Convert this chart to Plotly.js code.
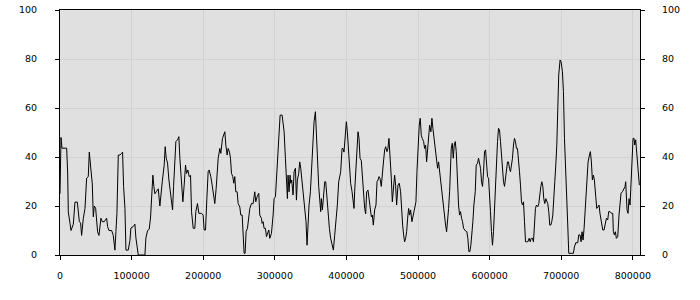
<!DOCTYPE html>
<html>
<head>
<meta charset="utf-8">
<script src="https://cdn.plot.ly/plotly-3.0.1.min.js"></script>
<style>html,body{margin:0;padding:0;background:#fff;}#chart{width:700px;height:300px;}</style>
</head>
<body>
<div id="chart"></div>
<script>
// positions along the x axis (data units) and the series values
const positions = [
0,1400,2800,9300,10700,11600,13950,15350,18600,20900,24200,25600,27000,28800,30200,32600,34900,37200,39500,40900,42800,45100,46500,47900,49800,51200,52500,54400,57200,59000,61800,65100,66500,68400,72100,74400,76700,78100,79500,81400,83700,86000,87400,88800,90700,92100,95300,97700,99000,102300,104600,106000,108300,109300,118600,120000,122300,124600,126500,127900,129700,131100,132500,134900,137200,139500,
140900,142800,145500,146900,148300,150200,152100,153900,155800,157200,158600,160400,161800,164100,166000,167400,169700,171600,173400,175300,176700,178600,180400,182300,183700,186000,188300,189700,192000,193900,197600,199900,201300,203200,205100,206900,208300,210600,212500,214400,216200,218100,220900,223200,224600,226900,228800,230200,231600,233400,234800,236700,238100,239500,241300,242700,244100,245500,247400,248800,251100,252500,254400,255700,257100,258500,259900,261800,263200,265100,267400,269700,272000,273400,275300,277600,
279000,281300,282300,283700,285000,286900,288300,289700,291600,293000,295300,297600,299000,300900,302200,303600,305500,307400,310200,311600,313000,314800,316200,317600,318500,319900,321300,322200,323600,325500,326900,328800,330200,331500,333400,334800,336200,338100,339900,341800,343600,345000,346400,347800,349700,352000,353400,354800,356700,358100,359400,361300,362700,364100,365000,366400,367800,369700,371100,372500,374300,376200,378000,379900,381800,383600,385500,387300,389200,392000,393900,395200,396600,398500,399900,401300,402700,404600,405900,407800,409200,410600,411500,413900,416200,417600,
419000,420800,422200,424100,425500,426900,428300,430100,431500,432900,434800,436200,437600,439400,441300,442700,444100,445500,446900,448700,450100,452000,453400,454800,456600,458000,459400,461300,462700,464100,465900,467300,468700,470100,472000,473800,475700,477100,478500,479900,481300,482700,484100,485500,486900,488300,489600,491500,493400,495200,497100,498500,499900,501700,503100,504500,505900,507800,509200,510600,512000,513400,514800,516200,518000,519400,520800,522200,524000,525900,527300,528700,530600,532400,533800,535200,537100,538500,539900,541300,542700,544100,545400,546400,547800,549200,550600,552000,553400,555200,556600,558000,
559400,560800,562200,563600,565000,566400,568200,569600,571000,572400,573800,575200,576600,578000,579900,581300,583100,584500,585900,587300,588700,590100,591500,592900,594300,595700,597100,598500,599900,601200,602600,604000,605400,606800,608200,609600,611000,612400,613800,615200,616600,618000,619400,620800,622200,623600,625000,626300,627700,629100,630500,631900,633300,634700,636100,637500,638900,640300,641700,643100,644500,645900,647300,648700,650100,651500,653300,655200,656600,658000,659800,661200,662600,664000,665400,667300,668700,670100,671500,672900,674300,675600,677000,678400,679800,681200,682600,684000,685400,686800,688200,689600,691000,692400,693800,695200,696500,
698400,699800,701700,703100,704500,705900,707700,709100,710500,717000,718400,720300,723100,724500,726300,727700,729100,730500,731900,733300,734700,736100,737500,739400,740700,742100,743500,744900,746300,748200,749600,751400,752800,754200,756100,758000,759800,761700,763100,764900,766300,768200,770000,771900,772800,774200,775600,777000,778900,780700,782100,783500,785400,787200,789100,790000,791000,791900,793300,794700,796100,797500,798900,800300,801700,802600,804000,805400,806800,808200,809100
];
const values = [
25,48,43.6,43.6,33.5,17.6,13,10,12.6,21.6,21.6,16,13.7,13,8,15,19,31.4,32,42,36,29,15.6,20,19,11,9.5,8,15,13.6,13.6,15,11.6,10,10,8,2,9.5,17,40.8,40.8,41.5,42,28,19,2,2,6,11,11.6,12.6,7,2,0,0,7,10,10.5,15.5,23,32.6,28,25,26,27,20,
25.8,29.9,36.7,44.2,39.5,37.5,30.6,26,21.7,18.4,27.9,38,46.3,47,48.3,39.5,29.3,21.7,28.5,36.7,33.3,34.7,32,32.5,17.7,10.9,10.9,17.7,21,17,17,16.3,10.2,10.2,23,34,34.7,32,28.5,23.8,21,27.2,39.5,43.5,41.5,47.6,49,50.3,44.9,40.8,43.5,42,39.5,33.3,32,29.3,32,25.8,25.8,21,19.6,16.3,16.3,6.8,0.7,0.7,9.5,10.9,13.6,19,21,21,25.8,21.7,23.8,25.2,
16.3,15,12.9,13.6,10.9,10.9,7.5,8.8,10.2,6.8,8.8,16.3,23,23.8,31.3,40.1,46.3,57.1,57.1,53,50.3,39.5,29.3,23,32.6,25.8,32.6,29.3,30.6,24.5,34,35.4,22.4,30.6,33.3,38,35.4,29.9,23,16.3,13.6,4,13.6,20.4,25.8,40.8,51.7,54.4,58.5,51.7,40.8,27.9,23,17.7,23,18.4,23,29.9,29.9,24.5,15,10.9,6.8,4,2,8,13.6,20.4,29.9,34,43.5,43.5,42,51.7,54.4,50.3,43.5,35.4,29.3,26,21.7,19,25.8,39.5,50.3,47.6,
39.5,38.5,31.3,25.8,19,16.8,25.8,26.5,23,19,15.6,16.3,12.2,18.4,20.4,29.9,30.6,32,31.3,28,34.7,38.8,42.9,44.2,42.2,43.5,47.6,40.1,31.3,21.7,27.2,32.6,28.5,20.4,28.5,29.3,25.8,17.7,12.2,8.2,5.4,6.8,9.5,15,19,16.3,18.4,13.6,16.3,19,21.7,34,44.9,53,55.8,48.9,47.6,46.3,43.5,44.9,38,42.2,46.3,53,50.3,55.8,51.7,47.6,43.5,39.5,35.4,38,32.6,28.5,24.5,19,15,12.2,9.5,13.6,19,25.8,39.5,43.5,45.6,39.5,44.9,46.3,42.2,28.5,20.4,16.3,
17.7,15,13.6,10.9,10.2,9.8,9.5,6.8,1.4,1.4,4,8.2,13.6,20.4,25.8,36.7,37.4,39.5,36.7,35.4,29.9,28,34,42.2,42.9,35.4,32,31.3,25.8,17.7,9.5,4,9.5,19,32.6,42.2,46.3,51.7,51,46.3,39.5,34,29.9,28,32.6,34.7,38,38,35.4,34,36.7,39.5,44.9,47.6,46.3,43.5,43.5,39.5,34,28.5,21.7,20.4,21.7,13.6,5.4,5.4,5.4,6.8,5.4,6.8,6.8,5.4,12.2,19,20.4,19.7,21,25.8,28,29.9,28,23,21,23,21.7,21,17.7,12.2,12.2,13.6,16.3,21.7,29.9,36.7,44.9,59.9,73.5,
79.6,78.9,74.8,66.7,47.6,34,20.4,12.2,0.7,0.7,3.3,5,5,8.2,8.2,5.4,9.5,6.1,10.9,17.7,20.4,28.5,38,40.8,42.2,38,30.6,32.6,30.6,23.8,19,19.7,20.4,16.8,13.6,10.2,10.2,13.6,15,14.3,17.7,17.7,17,17,9.5,8.2,9.5,6.8,7.5,16.3,23,25.2,25.8,27.2,27.9,29.9,24.5,18.4,17,23,20.4,28.5,36.7,47.6,47.6,44.9,47,42.2,36.7,29.9,28.5
];
const xTickValues = [0,100000,200000,300000,400000,500000,600000,700000,800000];
const xTickLabels = ["0","100000","200000","300000","400000","500000","600000","700000","800000"];
const yTickValues = [0,20,40,60,80,100];
const yTickLabels = ["0","20","40","60","80","100"];

const font = {family: "DejaVu Sans, Verdana, sans-serif", size: 9.5, color: "#000"};
const common = {
  showline: true, linecolor: "#000", linewidth: 1,
  ticks: "outside", ticklen: 4, tickcolor: "#000", tickwidth: 1,
  tickfont: font, zeroline: false, fixedrange: true
};

const traces = [
  {x: positions, y: values, type: "scatter", mode: "lines",
   line: {color: "#000", width: 1}, hoverinfo: "skip", showlegend: false},
  {x: positions, y: values, type: "scatter", mode: "lines", yaxis: "y2",
   line: {color: "rgba(0,0,0,0)", width: 0}, hoverinfo: "skip", showlegend: false}
];

const layout = {
  width: 700, height: 300,
  paper_bgcolor: "#ffffff", plot_bgcolor: "#e0e0e0",
  margin: {l: 60, r: 60, t: 10, b: 45, pad: 0},
  showlegend: false,
  xaxis: Object.assign({}, common, {
    range: [0, 810000], tickmode: "array", tickvals: xTickValues, ticktext: xTickLabels,
    showgrid: true, gridcolor: "#d2d2d2", gridwidth: 1, mirror: true, ticklabelstandoff: 8
  }),
  yaxis: Object.assign({}, common, {
    range: [0, 100], tickmode: "array", tickvals: yTickValues, ticktext: yTickLabels,
    showgrid: true, gridcolor: "#d2d2d2", gridwidth: 1, mirror: true, ticklabelstandoff: 16
  }),
  yaxis2: Object.assign({}, common, {
    range: [0, 100], tickmode: "array", tickvals: yTickValues, ticktext: yTickLabels,
    overlaying: "y", side: "right", showgrid: false, ticklabelstandoff: 15
  })
};

Plotly.newPlot("chart", traces, layout, {staticPlot: true, displayModeBar: false});
</script>
</body>
</html>
